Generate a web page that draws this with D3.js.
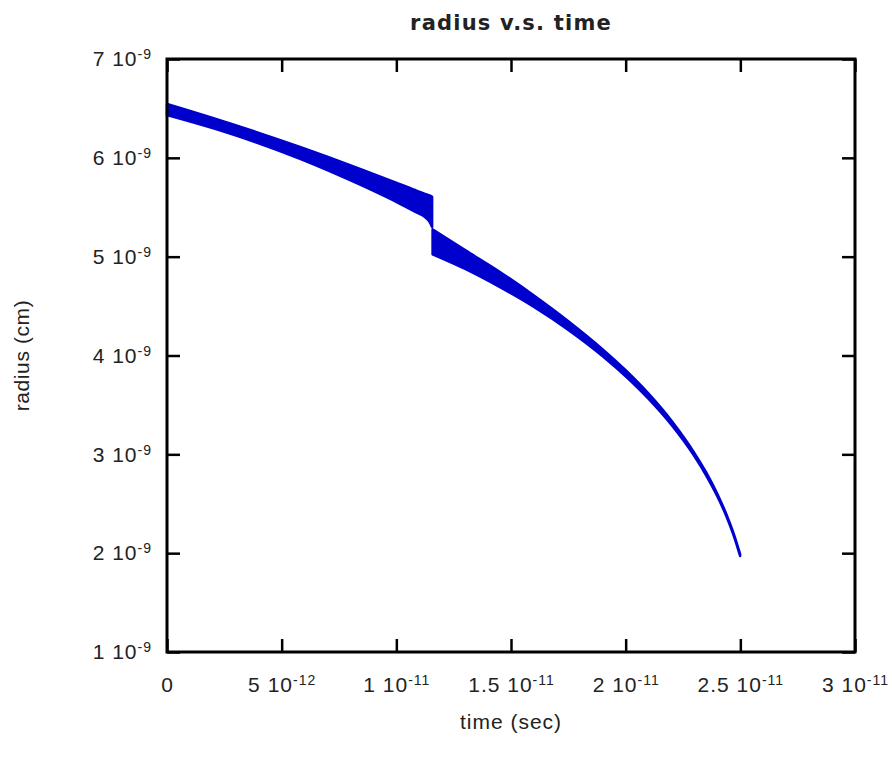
<meta charset="utf-8" />
<script src="https://d3js.org/d3.v7.min.js"></script>
<style>
  body { margin: 0; background: #fff; }
  svg text { fill: #222; font-family: "Liberation Sans", Arial, sans-serif; }
  .tick line { stroke: #000; stroke-width: 2.5; }
  .axis path.domain { display: none; }
</style>
<svg width="892" height="757"></svg>
<script>
  // time in units of 1e-11 sec; radius in units of 1e-9 cm
  // first segment runs up to the jump, second one starts right after it
  var time1   = [0, 0.275, 0.58, 0.842, 1.016, 1.09, 1.125, 1.147, 1.156];
  var upperR1 = [6.545, 6.348, 6.11, 5.889, 5.734, 5.666, 5.636, 5.618, 5.605];
  var lowerR1 = [6.433, 6.246, 5.99, 5.728, 5.535, 5.445, 5.40, 5.345, 5.30];

  var time2   = [1.158, 1.3, 1.45, 1.6, 1.75, 1.9, 2.0, 2.1, 2.2, 2.3, 2.35, 2.4, 2.44, 2.47, 2.499];
  var upperR2 = [5.277, 5.066, 4.848, 4.607, 4.347, 4.062, 3.851, 3.614, 3.340, 3.013, 2.822, 2.599, 2.389, 2.204, 1.99];
  var lowerR2 = [5.024, 4.876, 4.694, 4.491, 4.259, 3.992, 3.789, 3.560, 3.296, 2.979, 2.790, 2.573, 2.369, 2.186, 1.972];

  var xTicks = [0, 0.5, 1, 1.5, 2, 2.5, 3];
  var xTickMant = ["0", "5", "1", "1.5", "2", "2.5", "3"];
  var xTickExp = ["", "-12", "-11", "-11", "-11", "-11", "-11"];
  var yTicks = [1, 2, 3, 4, 5, 6, 7];
  var yTickExp = "-9";

  function rows(t, hi, lo) {
    return t.map(function (v, i) { return { t: v, hi: hi[i], lo: lo[i] }; });
  }
  var segments = [rows(time1, upperR1, lowerR1), rows(time2, upperR2, lowerR2)];

  var svg = d3.select("svg"),
    margin = { top: 59, right: 37, bottom: 105, left: 167 },
    width = +svg.attr("width") - margin.left - margin.right,
    height = +svg.attr("height") - margin.top - margin.bottom;

  var x = d3.scaleLinear().domain([0, 3]).range([0, width]),
    y = d3.scaleLinear().domain([1, 7]).range([height, 0]);

  var g = svg.append("g")
    .attr("transform", "translate(" + margin.left + "," + margin.top + ")");

  // band
  var area = d3.area()
    .curve(d3.curveMonotoneX)
    .x(function (d) { return x(d.t); })
    .y0(function (d) { return y(d.lo); })
    .y1(function (d) { return y(d.hi); });

  g.selectAll(".band")
    .data(segments)
    .enter()
    .append("path")
    .attr("class", "band")
    .attr("d", area)
    .attr("fill", "#0000cc")
    .attr("stroke", "#0000cc")
    .attr("stroke-width", 2.5)
    .attr("stroke-linejoin", "round");

  // bottom axis with labels
  var xAxis = g.append("g")
    .attr("class", "axis axis--x")
    .attr("transform", "translate(0," + height + ")")
    .call(d3.axisBottom(x).tickValues(xTicks).tickSize(-13).tickPadding(25)
      .tickFormat(function (d, i) { return i === 0 ? xTickMant[i] : xTickMant[i] + " 10"; }));
  xAxis.selectAll("text")
    .attr("font-size", 21)
    .attr("letter-spacing", 1)
    .each(function (d, i) {
      if (xTickExp[i]) {
        d3.select(this).append("tspan")
          .attr("dy", "-0.5em")
          .attr("font-size", 14)
          .text(xTickExp[i]);
      }
    });

  g.append("g")
    .attr("class", "axis")
    .call(d3.axisTop(x).tickValues(xTicks).tickSize(-13).tickFormat(""));

  // left axis with labels
  var yAxis = g.append("g")
    .attr("class", "axis axis--y")
    .call(d3.axisLeft(y).tickValues(yTicks).tickSize(-13).tickPadding(15)
      .tickFormat(function (d) { return d + " 10"; }));
  yAxis.selectAll("text")
    .attr("font-size", 21)
    .attr("letter-spacing", 1)
    .each(function () {
      d3.select(this).append("tspan")
        .attr("dy", "-0.5em")
        .attr("font-size", 14)
        .text(yTickExp);
    });

  g.append("g")
    .attr("class", "axis")
    .attr("transform", "translate(" + width + ",0)")
    .call(d3.axisRight(y).tickValues(yTicks).tickSize(-13).tickFormat(""));

  // frame
  g.append("rect")
    .attr("width", width)
    .attr("height", height)
    .attr("fill", "none")
    .attr("stroke", "#000")
    .attr("stroke-width", 3);

  // titles
  svg.append("text")
    .attr("x", margin.left + width / 2)
    .attr("y", 30)
    .attr("text-anchor", "middle")
    .attr("font-size", 21)
    .attr("font-weight", "bold")
    .attr("letter-spacing", 1.2)
    .style("font-family", "'DejaVu Sans', sans-serif")
    .text("radius v.s. time");

  svg.append("text")
    .attr("x", margin.left + width / 2)
    .attr("y", 729)
    .attr("text-anchor", "middle")
    .attr("font-size", 21)
    .attr("letter-spacing", 1)
    .text("time (sec)");

  svg.append("text")
    .attr("transform", "translate(29," + (margin.top + height / 2) + ") rotate(-90)")
    .attr("text-anchor", "middle")
    .attr("font-size", 21)
    .attr("letter-spacing", 0.6)
    .text("radius (cm)");
</script>
